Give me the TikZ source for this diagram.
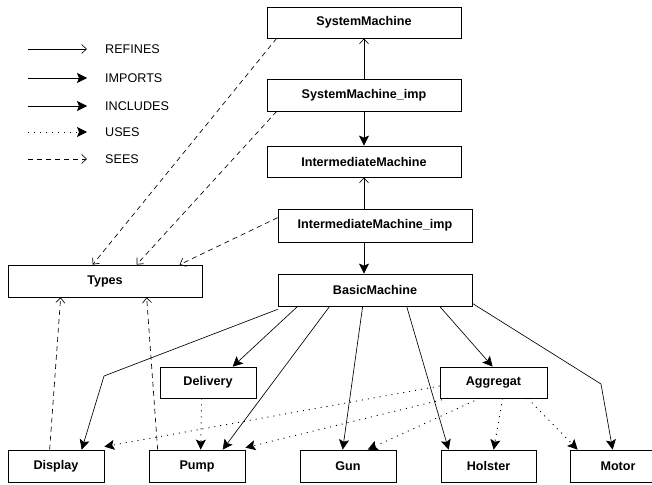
\documentclass[tikz,border=0pt]{standalone}
\usepackage{fontspec}
\setmainfont{Liberation Sans}
\usetikzlibrary{arrows.meta,calc}
\begin{document}
\begin{tikzpicture}[x=1pt,y=-1pt,
  box/.style={draw,line width=0.7pt,rectangle,inner sep=0pt,minimum height=31pt,
    font=\fontsize{12.6}{15}\selectfont\bfseries,anchor=center},
  wide/.style={box,minimum width=194pt},
  small/.style={box,minimum width=96pt},
  lbl/.style={anchor=west,inner sep=0pt,font=\fontsize{12.6}{15}\selectfont},
  link/.style={line width=0.65pt},
  solidtip/.style={-{Stealth[length=10pt,width=10pt,inset=2pt]}},
  opentip/.style={-{Straight Barb[length=5pt,width=9pt]}},
  refines/.style={link,opentip},
  imports/.style={link,solidtip},
  includes/.style={link,solidtip},
  uses/.style={link,line width=0.9pt,dash pattern=on 1pt off 5pt,solidtip},
  sees/.style={link,dash pattern=on 5pt off 4pt,opentip},
]
\useasboundingbox (0,0) rectangle (652,484);

% legend
\foreach \n/\y/\s/\t in {1/49/refines/REFINES,2/78/imports/IMPORTS,3/106/includes/INCLUDES,4/132/uses/USES,5/159/sees/SEES}{
  \coordinate (la\n) at (28,\y);
  \coordinate (lb\n) at (87,\y);
  \draw[\s] (la\n) -- (lb\n);
  \node[lbl] (lt\n) at (105,\y) {\t};
}

% nodes
\node[wide] (sm)  at (364,22.5) {SystemMachine};
\node[wide,minimum height=32pt] (smi) at (364,95) {SystemMachine\_imp};
\node[wide] (im)  at (364,161.5) {IntermediateMachine};
\node[wide,minimum height=33pt] (imi) at (375,225.5) {IntermediateMachine\_imp};
\node[wide,minimum height=32pt] (bm)  at (375,290) {BasicMachine};
\node[wide,minimum height=32pt] (types) at (105,281) {Types};
\node[small] (delivery) at (208,382.5) {Delivery};
\node[small,minimum width=107pt] (aggregat) at (493.5,382.5) {Aggregat};
\node[small,minimum height=32pt] (display) at (56,466) {Display};
\node[small,minimum height=32pt] (pump) at (197,466) {Pump};
\node[small,minimum height=32pt] (gun) at (348,466) {Gun};
\node[small,minimum height=32pt,minimum width=95pt] (holster) at (488.5,466) {Holster};
\node[small,minimum height=32pt] (motor) at (618,466) {Motor};

% bend points
\coordinate (bd) at (104,376);
\coordinate (bmo) at (601,384);

% refines / imports
\draw[refines] (smi.north) -- (sm.south);
\draw[imports] (smi.south) -- (im.north);
\draw[refines] ([xshift=-11pt]imi.north) -- (im.south);
\draw[imports] ([xshift=-11pt]imi.south) -- ([xshift=-11pt]bm.north);

% sees
\draw[sees] ([xshift=10pt]sm.south west) -- ([xshift=85pt]types.north west);
\draw[sees] ([xshift=10pt]smi.south west) -- ([xshift=129pt]types.north west);
\draw[sees] ([yshift=-9pt]imi.north west) -- ([xshift=172pt]types.north west);
\draw[sees] ([xshift=42pt]display.north west) -- ([xshift=53pt]types.south west);
\draw[sees] ([xshift=9pt]pump.north west) -- ([xshift=139pt]types.south west);

% includes
\draw[includes] ([yshift=-3pt]bm.south west) -- (bd) -- ([xshift=74pt]display.north west);
\draw[includes] ([xshift=20pt]bm.south west) -- ([xshift=73pt]delivery.north west);
\draw[includes] ([xshift=52pt]bm.south west) -- ([xshift=74pt]pump.north west);
\draw[includes] ([xshift=85pt]bm.south west) -- ([xshift=43pt]gun.north west);
\draw[includes] ([xshift=129pt]bm.south west) -- ([xshift=8pt]holster.north west);
\draw[includes] ([xshift=162pt]bm.south west) -- ([xshift=53pt]aggregat.north west);
\draw[includes] ([yshift=3pt]bm.south east) -- (bmo) -- ([xshift=43pt]motor.north west);

% uses
\draw[uses] ([xshift=42pt]delivery.south west) -- ([xshift=52pt]pump.north west);
\draw[uses] ([yshift=-3.5pt]aggregat.west) -- ([yshift=3pt]display.north east);
\draw[uses] ([xshift=8pt]aggregat.south west) -- ([yshift=2pt]pump.north east);
\draw[uses] ([xshift=40pt]aggregat.south west) -- ([xshift=68pt]gun.north west);
\draw[uses] ([xshift=63pt]aggregat.south west) -- ([xshift=53pt]holster.north west);
\draw[uses] ([xshift=88pt]aggregat.south west) -- ([xshift=8pt]motor.north west);
\end{tikzpicture}
\end{document}
